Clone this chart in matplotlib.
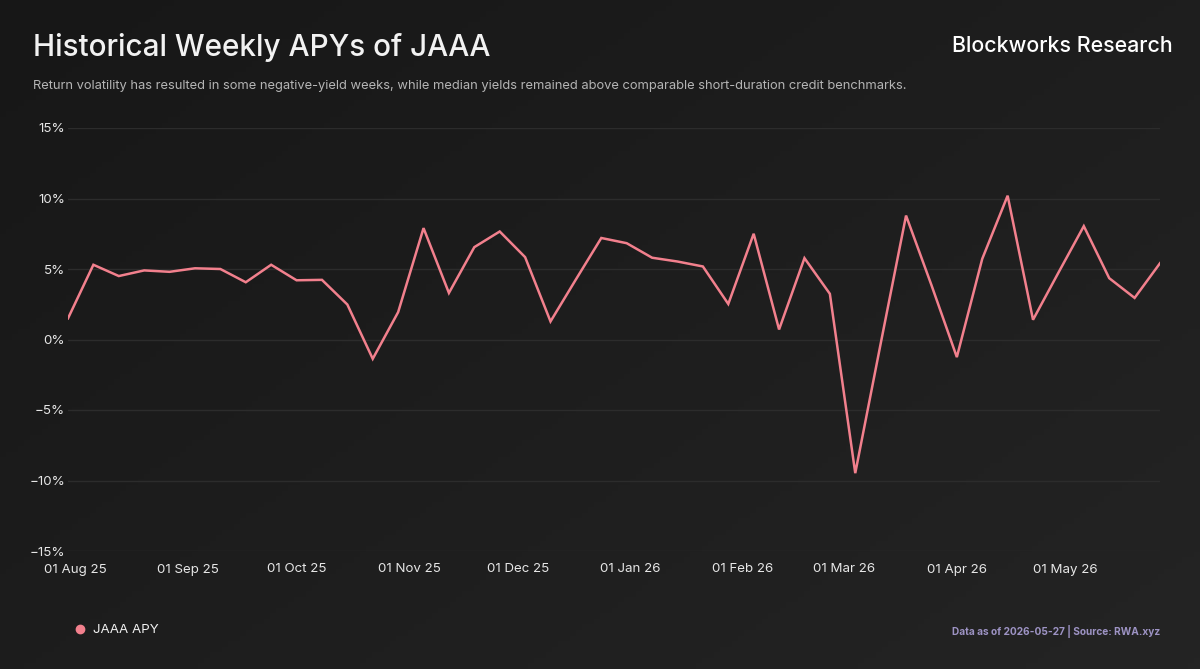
import numpy as np
import pandas as pd
import matplotlib
matplotlib.use("Agg")
import matplotlib.pyplot as plt
import matplotlib.dates as mdates
from matplotlib.lines import Line2D
from matplotlib.ticker import FuncFormatter

# === Data ===
start_date = "2025-07-30"
n_weeks = 44
dates = pd.date_range(start_date, periods=n_weeks, freq="7D")

apy = [1.5, 5.3, 4.5, 4.9, 4.8, 5.05, 5.0, 4.06, 5.3, 4.2, 4.23, 2.48, -1.37, 1.94,
       7.9, 3.3, 6.55, 7.66, 5.84, 1.28, 4.26, 7.2, 6.83, 5.8, 5.53, 5.18, 2.52, 7.5,
       0.71, 5.77, 3.24, -9.48, -0.3, 8.79, 3.86, -1.25, 5.72, 10.2, 1.4, 4.74, 8.04,
       4.35, 2.95, 5.41]

y_ticks = [-15, -10, -5, 0, 5, 10, 15]

# === Style ===
bg = "#1b1b1b"
line_color = "#f2808d"
grid_color = "#2c2c2c"
plt.rcParams["font.family"] = ["Inter", "DejaVu Sans"]

fig = plt.figure(figsize=(12, 6.69), dpi=100, facecolor=bg)

# subtle background gradient
bg_ax = fig.add_axes([0, 0, 1, 1], zorder=-10)
gx, gy = np.meshgrid(np.linspace(0, 1, 200), np.linspace(0, 1, 120))
grad = 0.55 * gx + 0.45 * gy
bg_ax.imshow(grad, cmap=matplotlib.colors.LinearSegmentedColormap.from_list(
    "bg", ["#171717", "#242424"]), aspect="auto", origin="upper", extent=[0, 1, 0, 1])
bg_ax.axis("off")

ax = fig.add_axes([68 / 1200, 1 - 551 / 669, (1160 - 68) / 1200, (551 - 128) / 669])
ax.set_facecolor("none")

ax.plot(dates, apy, color=line_color, linewidth=1.8, solid_joinstyle="miter")

ax.set_xlim(dates[0], dates[-1])
ax.set_ylim(-15, 15)
ax.set_yticks(y_ticks)
ax.yaxis.set_major_formatter(FuncFormatter(lambda v, p: f"{v:.0f}%".replace("-", "\u2212")))
ax.xaxis.set_major_locator(mdates.MonthLocator())
ax.xaxis.set_major_formatter(mdates.DateFormatter("%d %b %y"))

ax.grid(axis="y", color=grid_color, linewidth=1)
ax.set_axisbelow(True)
for s in ax.spines.values():
    s.set_visible(False)
ax.tick_params(axis="both", length=0, colors="#e6e6e6", labelsize=9.6)
ax.tick_params(axis="y", pad=2)
ax.tick_params(axis="x", pad=9)

# === Texts ===
fig.text(33 / 1200, 1 - 48 / 669, "Historical Weekly APYs of JAAA", color="#f2f2f2",
         fontsize=21.4, fontweight="medium", va="center", ha="left")
fig.text(33 / 1200, 1 - 86 / 669,
         "Return volatility has resulted in some negative-yield weeks, while median yields "
         "remained above comparable short-duration credit benchmarks.",
         color="#b4b4b4", fontsize=9.3, va="center", ha="left")
fig.text(1173 / 1200, 1 - 46 / 669, "Blockworks Research", color="#ffffff",
         fontsize=15.4, fontweight="medium", va="center", ha="right")

handle = Line2D([], [], marker="o", linestyle="", color=line_color, markersize=6)
fig.legend([handle], ["JAAA APY"], loc="center left", bbox_to_anchor=(0.05, 1 - 630 / 669),
           bbox_transform=fig.transFigure, frameon=False, labelcolor="#f0f0f0",
           fontsize=9.6, handlelength=1.2, handletextpad=0.4)

fig.text(1160 / 1200, 1 - 632 / 669, "Data as of 2026-05-27 | Source: RWA.xyz",
         color="#9d93c4", fontsize=7.3, fontweight="bold", va="center", ha="right")

fig.savefig("out.png", dpi=100, facecolor=bg)
